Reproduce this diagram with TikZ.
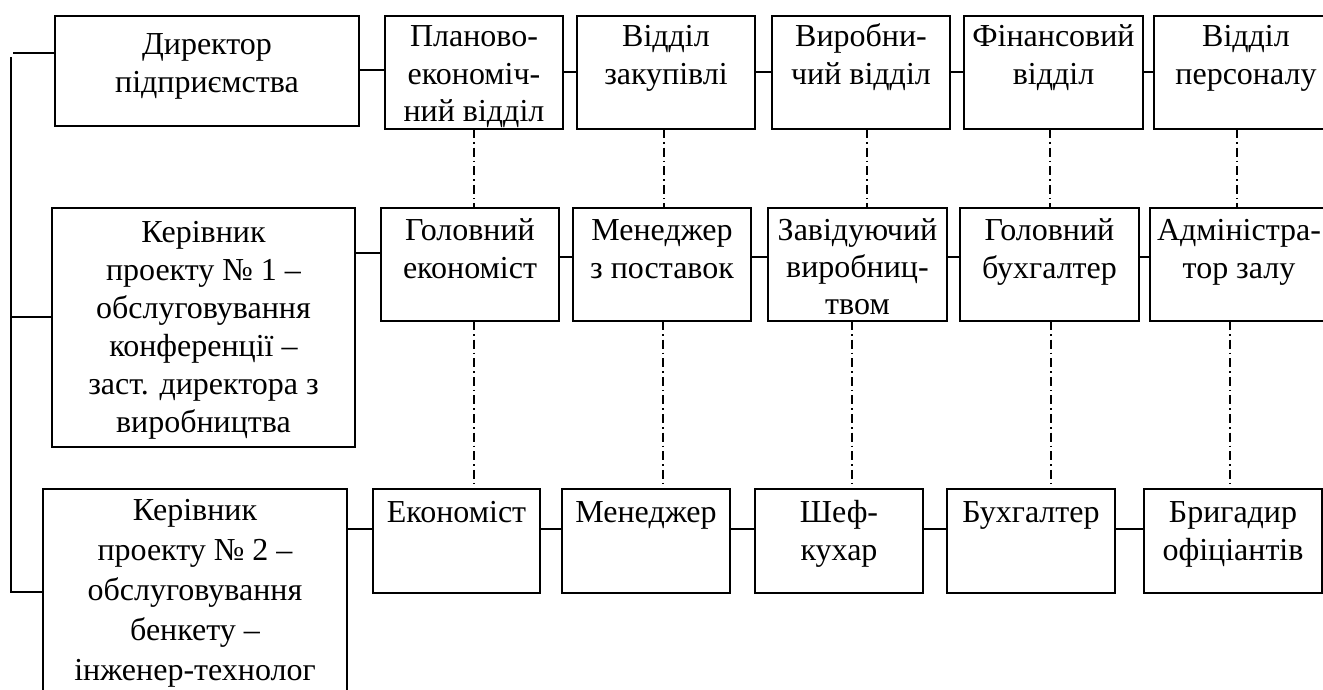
\documentclass[tikz,border=0pt]{standalone}
\usepackage{fontspec}
\setmainfont{Liberation Serif}
\usetikzlibrary{calc}

\tikzset{
  box/.style={draw, line width=1.9pt, rectangle, inner sep=0pt, outer sep=0pt},
  boxtext/.style={inner sep=0pt, outer sep=0pt, anchor=base},
  link/.style={line width=1.9pt},
  dotdash/.style={line width=1.5pt, dash pattern=on 9pt off 4pt on 1.6pt off 4pt},
}

% #1 name, #2 x1, #3 y1, #4 x2, #5 y2, #6 first baseline below top, #7 line skip, #8 text
\newcommand\orgbox[8]{%
  \node[box, minimum width={(#4-#2)*1pt}, minimum height={(#5-#3)*1pt}]
    (#1) at ({(#2+#4)/2},{(#3+#5)/2}) {};
  \node[boxtext] (#1-t) at ([yshift=-#6pt]#1.north)
    {\parbox[t]{320pt}{\centering\fontsize{32}{#7}\selectfont #8}};%
}

\begin{document}
\begin{tikzpicture}[x=1pt, y=-1pt]
\useasboundingbox (0,0) rectangle (1323,690);
\clip (0,0) rectangle (1323,690);
\fill[white] (0,0) rectangle (1323,690);

% top row: director and departments
\orgbox{dir}{55}{16}{359}{126}{39}{37.5}{Директор\\підприємства}
\orgbox{pe}{385}{16}{563}{129}{31}{37.5}{Планово-\\економіч-\\ний відділ}
\orgbox{zk}{577}{16}{755}{129}{31}{37.5}{Відділ\\закупівлі}
\orgbox{vr}{772}{16}{950}{129}{31}{37.5}{Виробни-\\чий відділ}
\orgbox{fn}{964}{16}{1143}{129}{31}{37.5}{Фінансовий\\відділ}
\orgbox{pr}{1154}{16}{1338}{129}{31}{37.5}{Відділ\\персоналу}

% middle row: project 1 manager and heads
\orgbox{k1}{52}{208}{355}{447}{34}{38.2}{Керівник\\проекту № 1 –\\обслуговування\\конференції –\\заст. директора з\\виробництва}
\orgbox{ge}{381}{208}{559}{321}{32}{38}{Головний\\економіст}
\orgbox{mp}{573}{208}{751}{321}{32}{38}{Менеджер\\з поставок}
\orgbox{zv}{768}{208}{947}{321}{32}{37}{Завідуючий\\виробниц-\\твом}
\orgbox{gb}{960}{208}{1139}{321}{32}{38}{Головний\\бухгалтер}
\orgbox{ad}{1150}{208}{1328}{321}{32}{38}{Адміністра-\\тор залу}

% bottom row: project 2 manager and staff
\orgbox{k2}{43}{489}{347}{730}{31}{40}{Керівник\\проекту № 2 –\\обслуговування\\бенкету –\\інженер-технолог}
\orgbox{ek}{373}{489}{540}{593}{33}{38}{Економіст}
\orgbox{mn}{562}{489}{730}{593}{33}{38}{Менеджер}
\orgbox{sh}{755}{489}{923}{593}{33}{38}{Шеф-\\кухар}
\orgbox{bh}{947}{489}{1115}{593}{33}{38}{Бухгалтер}
\orgbox{br}{1144}{489}{1322}{593}{33}{38}{Бригадир\\офіціантів}

% horizontal links, top row
\draw[link] ([yshift=-54pt]dir.north east) -- ([yshift=-54pt]pe.north west);
\foreach \a/\b in {pe/zk, zk/vr, vr/fn, fn/pr}
  \draw[link] ([yshift=-56pt]\a.north east) -- ([yshift=-56pt]\b.north west);

% horizontal links, middle row
\draw[link] ([yshift=-45pt]k1.north east) -- ([yshift=-45pt]ge.north west);
\foreach \a/\b in {ge/mp, mp/zv, zv/gb, gb/ad}
  \draw[link] ([yshift=-49pt]\a.north east) -- ([yshift=-49pt]\b.north west);

% horizontal links, bottom row
\draw[link] ([yshift=-40pt]k2.north east) -- ([yshift=-40pt]ek.north west);
\foreach \a/\b in {ek/mn, mn/sh, sh/bh, bh/br}
  \draw[link] ([yshift=-40pt]\a.north east) -- ([yshift=-40pt]\b.north west);

% left bracket joining the managers
\coordinate (bt) at (13,53);
\coordinate (vt) at (11,57);
\coordinate (vm) at (11,317);
\coordinate (vb) at (11,592);
\draw[link] (bt) -- (dir.west |- bt);
\draw[link] (vt) -- (vb) -- (k2.west |- vb);
\draw[link] (vm) -- (k1.west |- vm);

% functional (dash-dot) links between rows
\foreach \a/\b/\x in {pe/ge/474, zk/mp/664, vr/zv/867, fn/gb/1050, pr/ad/1237}
  \draw[dotdash] (\a.south -| \x,0) -- (\b.north -| \x,0);
\foreach \a/\b/\x in {ge/ek/474, mp/mn/663, zv/sh/852, gb/bh/1051, ad/br/1230}
  \draw[dotdash] (\a.south -| \x,0) -- (\b.north -| \x,0);
\end{tikzpicture}
\end{document}
